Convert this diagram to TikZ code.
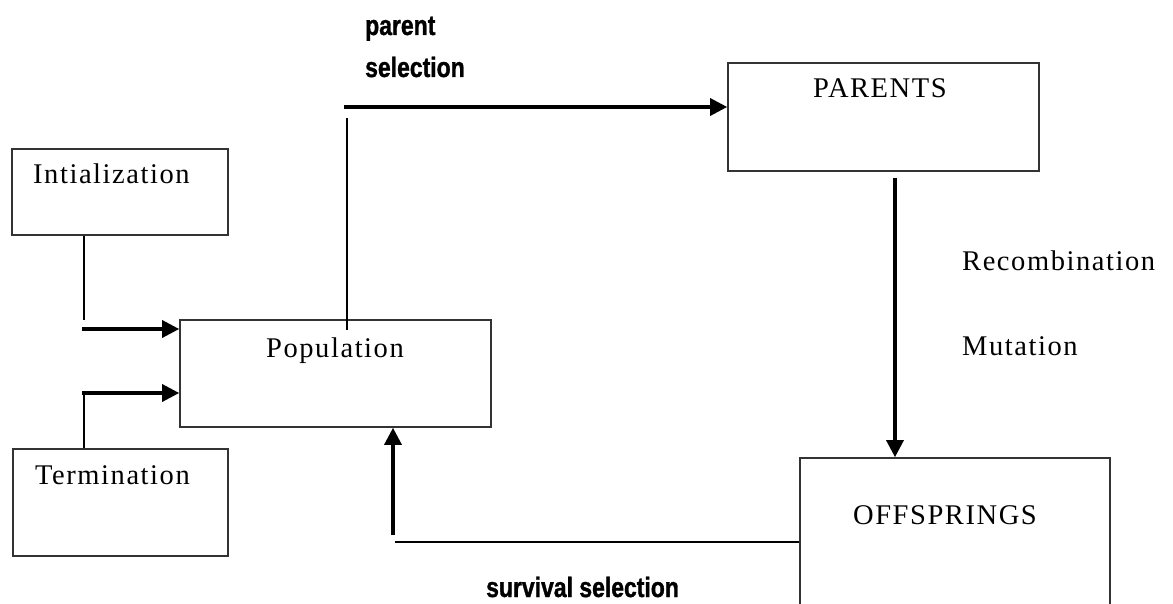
\documentclass[tikz,border=0pt]{standalone}
\usepackage{fontspec}
\setmainfont{Liberation Serif}[LetterSpace=5.5]
\newfontfamily\agency[FakeStretch=0.82, BoldFeatures={FakeBold=1.2}]{Liberation Sans}
\usetikzlibrary{arrows.meta}
\tikzset{
  box/.style={draw=black!80, line width=1.6pt, rectangle, inner sep=0pt},
  lbl/.style={anchor=base west, inner sep=0pt, font=\fontsize{28.5}{30}\selectfont},
  sel/.style={anchor=base west, inner sep=0pt, font=\agency\bfseries\fontsize{28}{30}\selectfont},
  thinline/.style={line width=1.4pt},
  thickarrow/.style={line width=3.2pt, -{Triangle[length=17pt,width=17pt]}},
  thickline/.style={line width=3pt}
}
\begin{document}
\begin{tikzpicture}[x=1pt,y=-1pt]
\clip (0,0) rectangle (1173,604);
\fill[white] (0,0) rectangle (1173,604);
% boxes
\node[box, minimum width=216pt, minimum height=86pt] (init) at (120,192) {};
\node[box, minimum width=215pt, minimum height=107pt] (term) at (120.5,502.5) {};
\node[box, minimum width=311pt, minimum height=107pt] (pop) at (335.5,373.5) {};
\node[box, minimum width=311pt, minimum height=108pt] (par) at (883.5,117) {};
\node[box, minimum width=310pt, minimum height=170pt] (off) at (955,543) {};
% box texts
\node[lbl] (tinit) at (33,184) {Intialization};
\node[lbl] (tterm) at (35,484) {Termination};
\node[lbl] (tpop) at (266,357) {Population};
\node[lbl] (tpar) at (813,98) {PARENTS};
\node[lbl] (toff) at (853,524) {OFFSPRINGS};
\node[lbl] (trec) at (962,270) {Recombination};
\node[lbl] (tmut) at (962,355) {Mutation};
\node[sel] (tps1) at (365,35) {parent};
\node[sel] (tps2) at (365,77) {selection};
\node[sel] (tss) at (486,597) {survival selection};
% connector coordinates
\coordinate (i1) at (84,320);
\coordinate (a1) at (82,329);
\coordinate (a2) at (82,393);
\coordinate (p1) at (347,330);
\coordinate (p2) at (347,118);
\coordinate (p3) at (344,107);
\coordinate (s1) at (395,542);
\coordinate (s2) at (393,535);
% initialization
\draw[thinline] (init.south -| i1) -- (i1);
\draw[thickarrow] (a1) -- (a1 -| pop.west);
% termination
\draw[thinline] (term.north -| i1) -- (a2 -| i1);
\draw[thickarrow] (a2) -- (a2 -| pop.west);
% parent selection
\draw[thinline] (p1) -- (p2);
\draw[thickarrow] (p3) -- (p3 -| par.west);
% recombination / mutation
\draw[thickarrow] (895,178) -- (895,0 |- off.north);
% survival selection
\draw[thinline] (s1 -| off.west) -- (s1);
\draw[thickarrow] (s2) -- (s2 |- pop.south);
\end{tikzpicture}
\end{document}
